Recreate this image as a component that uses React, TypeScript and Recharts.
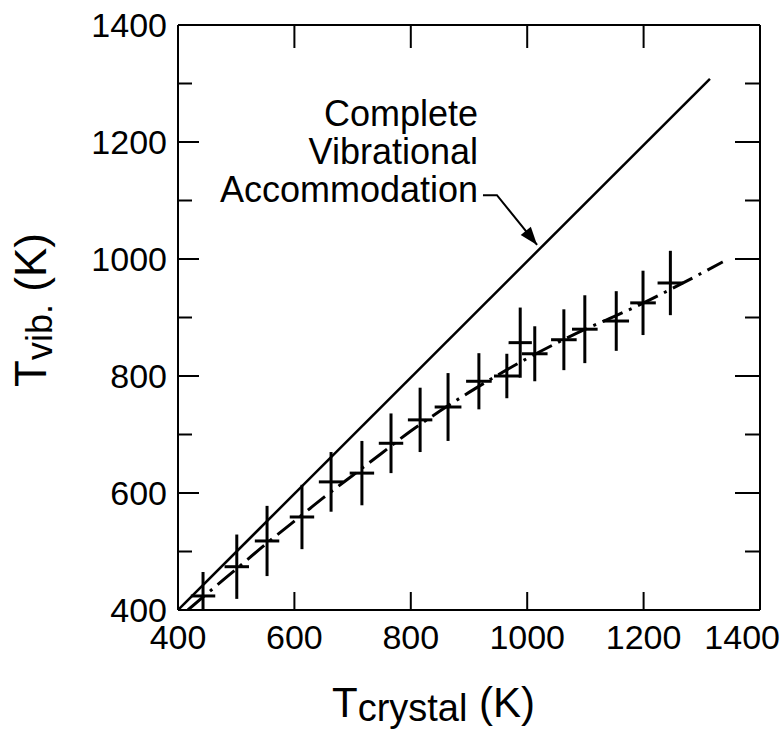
import { ComposedChart, Line, Scatter, ErrorBar, XAxis, YAxis } from 'recharts';

const FONT = '"Liberation Sans", Arial, Helvetica, sans-serif';

// axis ticks
const xTicks = [400, 600, 800, 1000, 1200, 1400];
const yTicks = [400, 500, 600, 700, 800, 900, 1000, 1100, 1200, 1300, 1400];

// measured points: crystal temperature vs vibrational temperature
const crystalT = [443, 501, 553, 613, 663, 716, 766, 816, 864, 917, 965, 988, 1013, 1063, 1099, 1153, 1199, 1246];
const vibT = [424, 474, 518, 559, 619, 634, 685, 725, 747, 791, 800, 857, 838, 862, 880, 894, 925, 959];
const vibErr: (number | number[])[] = [[24, 41], 55, 60, 55, 51, 55, 51, 55, 58, 48, 38, 60, 47, 52, 58, 51, 55, 55];
const crystalErr = [21, 21, 21, 21, 21, 21, 21, 21, 23, 22, 22, 20, 22, 22, 22, 22, 22, 22];

// dash-dot trend through the points
const fitX = [417, 450, 500, 550, 600, 650, 700, 750, 800, 850, 900, 950, 1000, 1050, 1100, 1150, 1200, 1250, 1336];
const fitY = [400, 428, 470, 512, 552, 592, 630, 668, 706, 740, 772, 802, 830, 856, 880, 902, 925, 950, 995];

// complete vibrational accommodation (T_vib = T_crystal)
const fullX = [400, 1314];
const fullY = [400, 1308];

// annotation arrow
const arrowX = [924, 948, 1017];
const arrowY = [1109, 1109, 1024];

const zip = (xs: number[], ys: number[]) => xs.map((x, i) => ({ x, y: ys[i] }));

const points = crystalT.map((x, i) => ({ x, y: vibT[i], ey: vibErr[i], ex: crystalErr[i] }));
const fitData = zip(fitX, fitY);
const fullData = zip(fullX, fullY);
const arrowData = zip(arrowX, arrowY);

const isMajor = (v: number) => v % 200 === 0;
const isEnd = (v: number) => v === 400 || v === 1400;

const LeftTick = ({ x, y, payload }: any) => (
  <g>
    {!isEnd(payload.value) && (
      <line x1={x} x2={x + (isMajor(payload.value) ? 21 : 14)} y1={y} y2={y} stroke="#000" strokeWidth={2} />
    )}
    {isMajor(payload.value) && (
      <text x={x - 11} y={y + 12} textAnchor="end" fontSize={34} fontFamily={FONT} fill="#000">
        {payload.value}
      </text>
    )}
  </g>
);

const RightTick = ({ x, y, payload }: any) =>
  isEnd(payload.value) ? <g /> : (
    <line x1={x - (isMajor(payload.value) ? 25 : 15)} x2={x} y1={y} y2={y} stroke="#000" strokeWidth={2} />
  );

const BottomTick = ({ x, y, payload }: any) => {
  const last = payload.value === 1400;
  return (
    <g>
      {!isEnd(payload.value) && <line x1={x} x2={x} y1={y - 18} y2={y} stroke="#000" strokeWidth={2} />}
      <text
        x={last ? x + 20 : x}
        y={y + 39}
        textAnchor={last ? 'end' : 'middle'}
        fontSize={34}
        fontFamily={FONT}
        fill="#000"
      >
        {payload.value}
      </text>
    </g>
  );
};

const TopTick = ({ x, y, payload }: any) =>
  isEnd(payload.value) ? <g /> : <line x1={x} x2={x} y1={y} y2={y + 23} stroke="#000" strokeWidth={2} />;

const ArrowHead = (props: any) => {
  const { cx, cy, index, points: pts } = props;
  if (index !== arrowData.length - 1) return <g key={`a${index}`} />;
  let ang = Math.atan2(50, 40);
  if (pts && pts[index - 1]) ang = Math.atan2(cy - pts[index - 1].y, cx - pts[index - 1].x);
  const len = 18;
  const half = 6.5;
  const bx = cx - len * Math.cos(ang);
  const by = cy - len * Math.sin(ang);
  const px = -Math.sin(ang) * half;
  const py = Math.cos(ang) * half;
  return (
    <polygon
      key={`a${index}`}
      points={`${cx},${cy} ${bx + px},${by + py} ${bx - px},${by - py}`}
      fill="#000"
    />
  );
};

const axisLine = { stroke: '#000', strokeWidth: 2 };

export default function App() {
  return (
    <div style={{ position: 'absolute', left: 0, top: 0, width: 784, height: 739, background: '#fff' }}>
      <ComposedChart width={784} height={739} margin={{ top: 24, right: 23, bottom: 69, left: 118 }}>
        <XAxis
          type="number"
          dataKey="x"
          domain={[400, 1400]}
          ticks={xTicks}
          interval={0}
          allowDataOverflow
          height={60}
          tickSize={0}
          tickMargin={0}
          tickLine={false}
          axisLine={axisLine}
          tick={BottomTick}
        />
        <XAxis
          xAxisId="t"
          orientation="top"
          type="number"
          dataKey="x"
          domain={[400, 1400]}
          ticks={xTicks}
          interval={0}
          allowDataOverflow
          height={1}
          tickSize={0}
          tickMargin={0}
          tickLine={false}
          axisLine={axisLine}
          tick={TopTick}
        />
        <YAxis
          type="number"
          dataKey="y"
          domain={[400, 1400]}
          ticks={yTicks}
          interval={0}
          allowDataOverflow
          width={60}
          tickSize={0}
          tickMargin={0}
          tickLine={false}
          axisLine={axisLine}
          tick={LeftTick}
        />
        <YAxis
          yAxisId="r"
          orientation="right"
          type="number"
          dataKey="y"
          domain={[400, 1400]}
          ticks={yTicks}
          interval={0}
          allowDataOverflow
          width={1}
          tickSize={0}
          tickMargin={0}
          tickLine={false}
          axisLine={axisLine}
          tick={RightTick}
        />
        <Line
          data={fullData}
          dataKey="y"
          xAxisId="t"
          yAxisId="r"
          type="linear"
          stroke="#000"
          strokeWidth={2.5}
          dot={false}
          isAnimationActive={false}
        />
        <Line
          data={fitData}
          dataKey="y"
          type="monotone"
          stroke="#000"
          strokeWidth={3}
          strokeDasharray="22 7 3 7"
          dot={false}
          isAnimationActive={false}
        />
        <Line
          data={arrowData}
          dataKey="y"
          type="linear"
          stroke="#000"
          strokeWidth={2}
          dot={ArrowHead}
          isAnimationActive={false}
        />
        <Scatter data={points} dataKey="y" shape={() => <g />} isAnimationActive={false}>
          <ErrorBar dataKey="ey" direction="y" width={0} stroke="#000" strokeWidth={3} />
          <ErrorBar dataKey="ex" direction="x" width={0} stroke="#000" strokeWidth={3} />
        </Scatter>
      </ComposedChart>

      <div
        style={{
          position: 'absolute',
          right: 784 - 478,
          top: 95,
          fontFamily: FONT,
          fontSize: 36,
          lineHeight: '38px',
          textAlign: 'right',
          whiteSpace: 'nowrap',
          color: '#000',
        }}
      >
        Complete
        <br />
        Vibrational
        <br />
        Accommodation
      </div>

      <div
        style={{
          position: 'absolute',
          left: 332,
          top: 680,
          fontFamily: FONT,
          fontSize: 42,
          lineHeight: '46px',
          whiteSpace: 'nowrap',
          color: '#000',
        }}
      >
        T<span style={{ fontSize: 38, position: 'relative', top: 4 }}>crystal</span> (K)
      </div>

      <div
        style={{
          position: 'absolute',
          left: 32,
          top: 310,
          transform: 'translate(-50%, -50%) rotate(-90deg)',
          fontFamily: FONT,
          fontSize: 44,
          lineHeight: '46px',
          whiteSpace: 'nowrap',
          color: '#000',
        }}
      >
        T<span style={{ fontSize: 36, position: 'relative', top: 6 }}>vib.</span> (K)
      </div>
    </div>
  );
}
